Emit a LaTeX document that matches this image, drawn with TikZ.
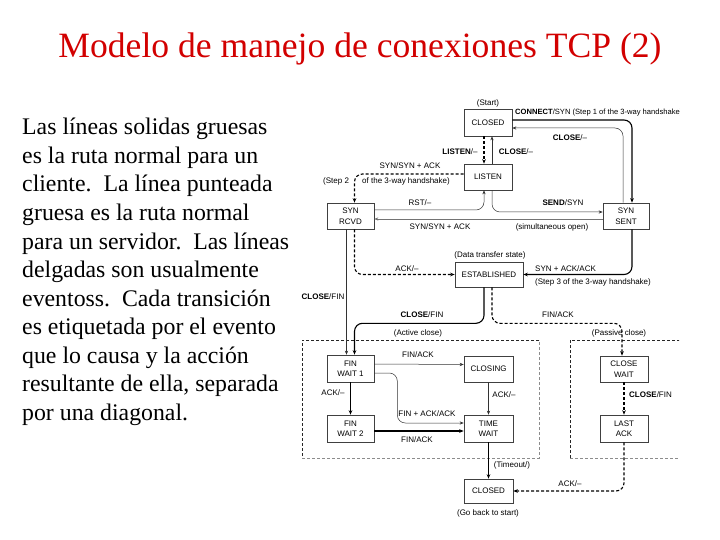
\documentclass[tikz,border=0pt]{standalone}
\usepackage{fontspec}
\setmainfont{Liberation Serif}
\newfontfamily\arialfam{Liberation Sans}
\usetikzlibrary{arrows.meta,calc}
\definecolor{titlered}{RGB}{210,0,0}
\newcommand\diafont{\arialfam\fontsize{8}{10.5}\selectfont}
\newcommand\bodyfont{\fontsize{23.8}{27}\selectfont}
\begin{document}
\begin{tikzpicture}[x=1pt,y=-1pt,
  stbox/.style={draw=black!75,line width=0.6pt,inner sep=0pt,align=center,font=\diafont},
  thickarr/.style={line width=1.1pt,rounded corners=8pt,-{Stealth[length=4.5pt,width=3.6pt]}},
  thinarr/.style={line width=0.5pt,draw=black!80,rounded corners=8pt,-{Stealth[length=4pt,width=3.2pt]}},
  dasharr/.style={thickarr,dash pattern=on 3pt off 2pt},
  lab/.style={font=\diafont,inner sep=0pt},
  bodyline/.style={anchor=base west,inner sep=0pt,font=\bodyfont}
]
\useasboundingbox (0,0) rectangle (720,540);
% title
\node[font=\fontsize{35.6}{40}\selectfont,text=titlered,anchor=base,inner sep=0pt] (title) at (360,58) {Modelo de manejo de conexiones TCP (2)};
% body text
\node[bodyline] (t1) at (22,135) {Las líneas solidas gruesas};
\node[bodyline] (t2) at (22,163.5) {es la ruta normal para un};
\node[bodyline] (t3) at (22,192) {cliente.\ \ La línea punteada};
\node[bodyline] (t4) at (22,220.5) {gruesa es la ruta normal};
\node[bodyline] (t5) at (22,249) {para un servidor.\ \ Las líneas};
\node[bodyline] (t6) at (22,277.5) {delgadas son usualmente};
\node[bodyline] (t7) at (22,306) {eventoss.\ \ Cada transición};
\node[bodyline] (t8) at (22,334.5) {es etiquetada por el evento};
\node[bodyline] (t9) at (22,363) {que lo causa y la acción};
\node[bodyline] (t10) at (22,391.5) {resultante de ella, separada};
\node[bodyline] (t11) at (22,420) {por una diagonal.};

\begin{scope}
\clip (296,90) rectangle (679,525);
% dashed regions
\draw[line width=0.6pt,dash pattern=on 3pt off 2pt,black!85] (539,340) -- (302,340) -- (302,458);
\draw[line width=0.6pt,dash pattern=on 3pt off 2pt,black!45] (302,458) -- (539,458) -- (539,340);
\draw[line width=0.6pt,dash pattern=on 3pt off 2pt,black!85] (570,458) -- (570,340) -- (690,340);
\draw[line width=0.6pt,dash pattern=on 3pt off 2pt,black!45] (570,458) -- (690,458);
% states
\node[stbox,minimum width=48pt,minimum height=27pt] (closedA) at (488,122.5) {CLOSED};
\node[stbox,minimum width=48pt,minimum height=26pt] (listen) at (488,177) {LISTEN};
\node[stbox,minimum width=47pt,minimum height=26pt] (synrcvd) at (350.5,216) {SYN\\RCVD};
\node[stbox,minimum width=46pt,minimum height=26pt] (synsent) at (626,216) {SYN\\SENT};
\node[stbox,minimum width=68pt,minimum height=25pt] (est) at (489,274.5) {ESTABLISHED};
\node[stbox,minimum width=47pt,minimum height=27pt] (fw1) at (350.5,368.5) {FIN\\WAIT 1};
\node[stbox,minimum width=47pt,minimum height=27pt] (fw2) at (350.5,428.5) {FIN\\WAIT 2};
\node[stbox,minimum width=49pt,minimum height=26pt] (closing) at (488.5,369) {CLOSING};
\node[stbox,minimum width=49pt,minimum height=27pt] (timewait) at (488.5,428.5) {TIME\\WAIT};
\node[stbox,minimum width=48pt,minimum height=26pt] (closewait) at (624,369) {CLOSE\\WAIT};
\node[stbox,minimum width=48pt,minimum height=27pt] (lastack) at (624,428.5) {LAST\\ACK};
\node[stbox,minimum width=49pt,minimum height=24pt] (closedB) at (488.5,491) {CLOSED};
% free labels
\node[lab] (lstart) at (488,103) {(Start)};
\node[lab] (ldata) at (490,255) {(Data transfer state)};
\node[lab] (lgoback) at (488,513) {(Go back to start)};
% connectors
\draw[thickarr] ([yshift=2.5pt]closedA.east) -| ([xshift=6pt]synsent.north);
\node[lab,anchor=west,font=\arialfam\fontsize{7.6}{9}\selectfont] (l1) at (515,112.5) {\textbf{CONNECT}/SYN (Step 1 of the 3-way handshake)};
\draw[thinarr] ([xshift=-3pt]synsent.north) |- ([yshift=-5.5pt]closedA.east);
\node[lab] (l2) at (570,138) {\textbf{CLOSE}/–};
\draw[dasharr] ([xshift=-4pt]closedA.south) -- ([xshift=-4pt]listen.north);
\node[lab] (l3) at (460,152) {\textbf{LISTEN}/–};
\draw[thinarr] ([xshift=4pt]listen.north) -- ([xshift=4pt]closedA.south);
\node[lab] (l4) at (516,152) {\textbf{CLOSE}/–};
\draw[dasharr] ([yshift=3pt]listen.west) -| ([xshift=4pt]synrcvd.north);
\node[lab] (l5) at (410,166) {SYN/SYN + ACK};
\node[lab,anchor=west] (l6a) at (323,181) {(Step 2};
\node[lab,anchor=west] (l6b) at (362,181) {of the 3-way handshake)};
\draw[thinarr] ([yshift=6pt]synrcvd.east) -| ([xshift=-4pt]listen.south);
\node[lab] (l7) at (420,203) {RST/–};
\draw[thinarr] ([xshift=4pt]listen.south) |- ([yshift=4pt]synsent.west);
\node[lab] (l8) at (563,203) {\textbf{SEND}/SYN};
\draw[thinarr,draw=black!55] ([yshift=-3pt]synsent.west) -- ([yshift=-3pt]synrcvd.east);
\node[lab] (l9) at (440,227) {SYN/SYN + ACK};
\node[lab] (l10) at (552,227) {(simultaneous open)};
\draw[thinarr] ([xshift=-4pt]synrcvd.south) -- ([xshift=-4pt]fw1.north);
\node[lab] (l11) at (323,297) {\textbf{CLOSE}/FIN};
\draw[dasharr] ([xshift=4pt]synrcvd.south) |- (est.west);
\node[lab] (l12) at (407,269) {ACK/–};
\draw[thickarr] ([xshift=6pt]synsent.south) |- (est.east);
\node[lab,anchor=west] (l13) at (535,269) {SYN + ACK/ACK};
\node[lab,anchor=west] (l14) at (535,282) {(Step 3 of the 3-way handshake)};
\draw[thickarr] ([xshift=-5pt]est.south) -- ++(0,36) -| ([xshift=4pt]fw1.north);
\node[lab] (l15) at (422,315) {\textbf{CLOSE}/FIN};
\node[lab] (l16) at (418,333) {(Active close)};
\draw[dasharr] ([xshift=3pt]est.south) -- ++(0,36) -| ([xshift=-2pt]closewait.north);
\node[lab] (l17) at (558,315) {FIN/ACK};
\node[lab] (l18) at (619,333) {(Passive close)};
\draw[thinarr] ([yshift=4.5pt]fw1.east) -- ([yshift=4.5pt]closing.west);
\node[lab] (l19) at (418,355) {FIN/ACK};
\draw[thinarr] ([yshift=-4.5pt]fw1.east) -- ++(23,0) |- ([yshift=5.5pt]timewait.west);
\node[lab] (l20) at (427,414) {FIN + ACK/ACK};
\draw[thickarr] (fw1.south) -- (fw2.north);
\node[lab] (l21) at (333,393) {ACK/–};
\draw[thickarr] ([yshift=-2.5pt]fw2.east) -- ([yshift=-2.5pt]timewait.west);
\node[lab] (l22) at (417,440) {FIN/ACK};
\draw[thinarr] (closing.south) -- (timewait.north);
\node[lab] (l23) at (504,395) {ACK/–};
\draw[thickarr] (timewait.south) -- (closedB.north);
\node[lab] (l24) at (512,465) {(Timeout/)};
\draw[dasharr] (closewait.south) -- (lastack.north);
\node[lab,anchor=west] (l25) at (629,395) {\textbf{CLOSE}/FIN};
\draw[dasharr] (lastack.south) |- (closedB.east);
\node[lab] (l26) at (570,484) {ACK/–};
\end{scope}
\end{tikzpicture}
\end{document}
